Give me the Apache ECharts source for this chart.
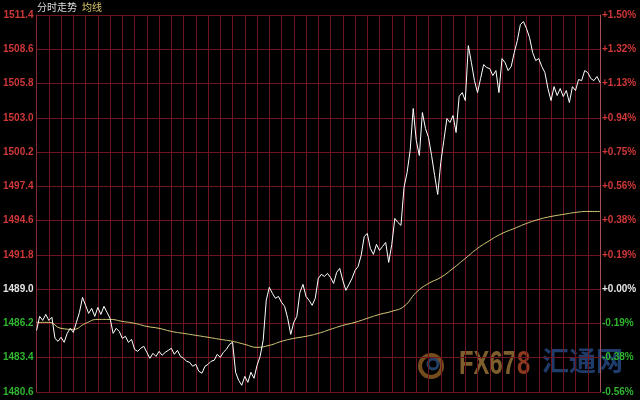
<!DOCTYPE html>
<html><head><meta charset="utf-8">
<script src="https://cdn.jsdelivr.net/npm/echarts@6/dist/echarts.min.js"></script>
<style>html,body{margin:0;padding:0;background:#000;}#c{width:640px;height:400px;}</style>
</head><body><div id="c"></div>
<script>
var leftLabels = ['1480.6','1483.4','1486.2','1489.0','1491.8','1494.6','1497.4','1500.2','1503.0','1505.8','1508.6','1511.4'];
var rightLabels = ['-0.56%','-0.38%','-0.19%','+0.00%','+0.19%','+0.38%','+0.56%','+0.75%','+0.94%','+1.13%','+1.32%','+1.50%'];
var baseIndex = 3;
var prices = [
1485.64,1486.78,1486.45,1486.94,1486.45,1486.70,1484.98,1484.74,1485.07,1484.66,
1485.39,1485.80,1485.47,1486.29,1487.11,1488.33,1487.68,1487.02,1487.43,1486.78,
1487.51,1486.94,1487.60,1487.11,1486.62,1485.39,1485.80,1485.55,1484.98,1485.15,
1484.66,1484.90,1484.09,1483.92,1484.17,1484.33,1483.84,1483.35,1483.76,1483.51,
1483.92,1483.60,1483.84,1484.00,1484.17,1483.68,1484.00,1483.51,1483.35,1483.11,
1483.02,1482.70,1482.86,1482.29,1482.13,1482.70,1482.86,1483.11,1483.19,1483.68,
1483.43,1483.84,1484.09,1484.49,1484.66,1482.21,1481.55,1481.15,1481.88,1481.39,
1482.21,1481.72,1482.78,1483.51,1484.82,1488.09,1489.15,1488.66,1488.25,1488.41,
1487.92,1487.60,1486.62,1485.31,1486.29,1486.78,1488.74,1489.39,1488.41,1488.09,
1487.68,1488.25,1489.88,1490.21,1490.04,1490.29,1489.96,1489.47,1490.37,1490.70,
1489.72,1488.90,1489.39,1489.88,1490.53,1490.86,1491.76,1493.31,1493.55,1492.33,
1491.84,1492.66,1492.17,1492.49,1492.82,1491.19,1492.66,1494.78,1494.45,1494.21,
1497.31,1498.53,1500.33,1503.76,1501.15,1499.92,1503.43,1502.13,1501.39,1499.92,
1498.29,1496.74,1499.35,1501.15,1502.94,1502.62,1503.19,1501.80,1504.74,1505.06,
1504.41,1508.90,1507.51,1506.04,1505.06,1506.21,1507.35,1507.11,1507.02,1506.45,
1506.86,1505.06,1507.84,1507.51,1506.86,1507.19,1508.33,1509.31,1510.62,1510.86,
1510.29,1509.55,1508.33,1507.68,1507.84,1507.19,1506.70,1505.39,1504.41,1505.55,
1504.82,1505.39,1504.74,1505.23,1504.25,1505.55,1505.23,1506.13,1506.04,1506.86,
1506.70,1506.21,1506.04,1506.37,1505.88];
var avgPrices = [
1486.29,1486.29,1485.80,1485.72,1486.21,1486.53,1486.53,1486.37,1486.21,1485.96,
1485.80,1485.55,1485.39,1485.23,1485.07,1484.90,1484.74,1484.49,1484.25,1484.41,
1484.74,1484.98,1485.15,1485.39,1485.72,1486.04,1486.29,1486.62,1486.94,1487.19,
1487.60,1488.74,1489.47,1489.96,1490.70,1491.51,1492.33,1492.98,1493.55,1493.96,
1494.37,1494.70,1494.94,1495.11,1495.27,1495.35,1495.35];
var headerTitle = '分时走势', headerAvg = '均线';

var yMin = parseFloat(leftLabels[0]);
var yStep = parseFloat(leftLabels[1]) - yMin;
var nSteps = leftLabels.length - 1;
var ptsPerCol = (prices.length - 1) / (avgPrices.length - 1);
function toY(p){ return (p - yMin) / yStep; }
var priceData = prices.map(function(p,i){ return [i, toY(p)]; });
var avgData = avgPrices.map(function(p,i){ return [i*ptsPerCol, toY(p)]; });
function labColor(v){ return v < baseIndex ? '#2fb52f' : (v === baseIndex ? '#e6e6e6' : '#d03838'); }
var gridColor = '#6e1620';
var wmFont = 'bold 34px "Liberation Sans", Arial';

var chart = echarts.init(document.getElementById('c'), null, {renderer:'canvas'});
chart.setOption({
  backgroundColor: '#000',
  animation: false,
  grid: {left: 35, right: 40, top: 15, bottom: 8},
  xAxis: {type:'value', min:0, max:prices.length-1, interval: ptsPerCol,
    axisLabel:{show:false}, axisTick:{show:false},
    axisLine:{show:false},
    splitLine:{show:true, lineStyle:{color:gridColor, width:1}}},
  yAxis: [
    {type:'value', position:'left', min:0, max:nSteps, interval:1,
     axisLine:{show:true, lineStyle:{color:'#8a2a34'}}, axisTick:{show:false},
     splitLine:{show:true, lineStyle:{color:gridColor, width:1}},
     axisLabel:{margin:3, fontFamily:'Arial, Liberation Sans', fontSize:10, fontWeight:'bold',
       formatter:function(v){ return leftLabels[Math.round(v)]; },
       color:function(v){ return labColor(Math.round(v)); }}},
    {type:'value', position:'right', min:0, max:nSteps, interval:1,
     axisLine:{show:true, lineStyle:{color:'#a8505a'}}, axisTick:{show:false},
     splitLine:{show:false},
     axisLabel:{margin:2, fontFamily:'Arial, Liberation Sans', fontSize:10, fontWeight:'bold',
       formatter:function(v){ return rightLabels[Math.round(v)]; },
       color:function(v){ return labColor(Math.round(v)); }}}
  ],
  graphic: [
    {type:'text', left:37, top:2, style:{text:headerTitle, fill:'#dcdcdc', font:'10px "Noto Sans CJK SC"'}},
    {type:'text', left:82, top:2, style:{text:headerAvg, fill:'#d8c86a', font:'10px "Noto Sans CJK SC"'}},
    {type:'circle', shape:{cx:431, cy:366, r:11}, style:{fill:'none', stroke:'#8a5a22', lineWidth:4, opacity:0.85}},
    {type:'circle', shape:{cx:433, cy:364, r:5}, style:{fill:'none', stroke:'#2a4a7a', lineWidth:3, opacity:0.85}},
    {type:'text', x:459, y:348, scaleX:0.7, style:{text:'FX67', fill:'#7e5e2c', font:wmFont}},
    {type:'text', x:517, y:348, scaleX:0.7, style:{text:'8', fill:'#8e3a1e', font:wmFont}},
    {type:'text', x:542, y:347, style:{text:'汇通网', fill:'#1e3c6c', font:'bold 27px "Noto Sans CJK SC"'}}
  ],
  series: [
    {type:'line', data:avgData, showSymbol:false, smooth:true, z:3,
     lineStyle:{color:'#d8cc78', width:1}},
    {type:'line', data:priceData, showSymbol:false, z:4,
     lineStyle:{color:'#ffffff', width:1}}
  ]
});
</script></body></html>
